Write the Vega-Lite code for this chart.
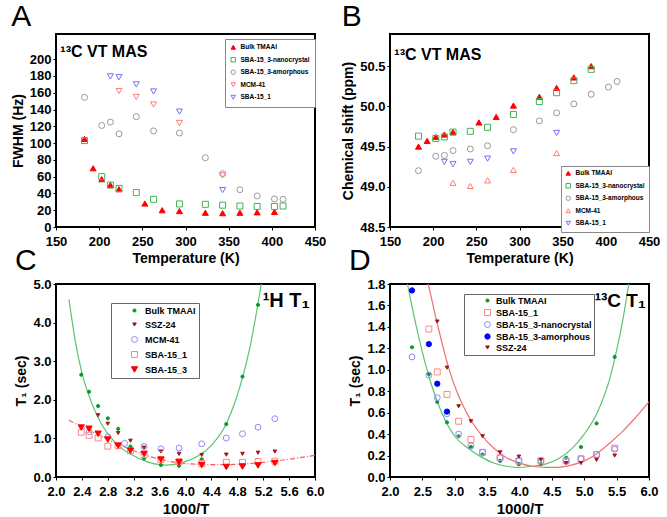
{
  "$schema": "https://vega.github.io/schema/vega-lite/v6.json",
  "background": "white",
  "padding": {"left": 10, "top": 1, "right": 5, "bottom": 3},
  "config": {
    "font": "Liberation Sans",
    "view": {"stroke": "#000", "strokeWidth": 2},
    "axis": {"domain": false, "grid": false, "ticks": true, "tickSize": 3, "tickColor": "#000", "labelPadding": 2, "titlePadding": 4,
      "labelFont": "Liberation Sans", "labelFontSize": 13, "labelFontWeight": "bold", "labelColor": "#000",
      "titleFont": "Liberation Sans", "titleFontSize": 14, "titleFontWeight": "bold", "titleColor": "#000", "labelFlush": false, "labelOverlap": false},
    "axisX": {"labelPadding": 5, "titlePadding": 3},
    "legend": {"labelFont": "Liberation Sans", "labelFontWeight": "bold", "title": null},
    "title": {"font": "Liberation Sans", "fontSize": 30, "fontWeight": "normal", "anchor": "start", "frame": "bounds", "color": "#000", "offset": 2}
  },
  "datasets": {
    "A": [
      {"s": "Bulk TMAAI", "x": 183, "y": 105}, {"s": "Bulk TMAAI", "x": 193, "y": 70}, {"s": "Bulk TMAAI", "x": 203, "y": 57}, {"s": "Bulk TMAAI", "x": 213, "y": 50}, {"s": "Bulk TMAAI", "x": 223, "y": 45}, {"s": "Bulk TMAAI", "x": 253, "y": 28}, {"s": "Bulk TMAAI", "x": 273, "y": 20}, {"s": "Bulk TMAAI", "x": 293, "y": 19}, {"s": "Bulk TMAAI", "x": 323, "y": 17}, {"s": "Bulk TMAAI", "x": 343, "y": 16.5}, {"s": "Bulk TMAAI", "x": 363, "y": 17}, {"s": "Bulk TMAAI", "x": 383, "y": 17.5}, {"s": "Bulk TMAAI", "x": 403, "y": 18},
      {"s": "SBA-15_3-nanocrystal", "x": 183, "y": 103}, {"s": "SBA-15_3-nanocrystal", "x": 203, "y": 60}, {"s": "SBA-15_3-nanocrystal", "x": 213, "y": 50}, {"s": "SBA-15_3-nanocrystal", "x": 223, "y": 46}, {"s": "SBA-15_3-nanocrystal", "x": 243, "y": 41}, {"s": "SBA-15_3-nanocrystal", "x": 263, "y": 33}, {"s": "SBA-15_3-nanocrystal", "x": 293, "y": 27.5}, {"s": "SBA-15_3-nanocrystal", "x": 323, "y": 27}, {"s": "SBA-15_3-nanocrystal", "x": 343, "y": 26}, {"s": "SBA-15_3-nanocrystal", "x": 363, "y": 25}, {"s": "SBA-15_3-nanocrystal", "x": 383, "y": 24.5}, {"s": "SBA-15_3-nanocrystal", "x": 403, "y": 24.5}, {"s": "SBA-15_3-nanocrystal", "x": 413, "y": 25},
      {"s": "SBA-15_3-amorphous", "x": 183, "y": 154.5}, {"s": "SBA-15_3-amorphous", "x": 203, "y": 121}, {"s": "SBA-15_3-amorphous", "x": 213, "y": 125}, {"s": "SBA-15_3-amorphous", "x": 223, "y": 111}, {"s": "SBA-15_3-amorphous", "x": 243, "y": 131.5}, {"s": "SBA-15_3-amorphous", "x": 263, "y": 114.5}, {"s": "SBA-15_3-amorphous", "x": 293, "y": 112}, {"s": "SBA-15_3-amorphous", "x": 323, "y": 82.5}, {"s": "SBA-15_3-amorphous", "x": 343, "y": 63.5}, {"s": "SBA-15_3-amorphous", "x": 363, "y": 44.5}, {"s": "SBA-15_3-amorphous", "x": 383, "y": 37}, {"s": "SBA-15_3-amorphous", "x": 403, "y": 33.5}, {"s": "SBA-15_3-amorphous", "x": 413, "y": 33},
      {"s": "MCM-41", "x": 223, "y": 162}, {"s": "MCM-41", "x": 243, "y": 155}, {"s": "MCM-41", "x": 263, "y": 146}, {"s": "MCM-41", "x": 293, "y": 124}, {"s": "MCM-41", "x": 343, "y": 61.5},
      {"s": "SBA-15_1", "x": 213, "y": 179.5}, {"s": "SBA-15_1", "x": 223, "y": 178.5}, {"s": "SBA-15_1", "x": 243, "y": 170}, {"s": "SBA-15_1", "x": 263, "y": 161.5}, {"s": "SBA-15_1", "x": 293, "y": 137.5}, {"s": "SBA-15_1", "x": 343, "y": 44}
    ],
    "B": [
      {"s": "Bulk TMAAI", "x": 183, "y": 49.50}, {"s": "Bulk TMAAI", "x": 193, "y": 49.57}, {"s": "Bulk TMAAI", "x": 203, "y": 49.62}, {"s": "Bulk TMAAI", "x": 213, "y": 49.65}, {"s": "Bulk TMAAI", "x": 223, "y": 49.68}, {"s": "Bulk TMAAI", "x": 253, "y": 49.80}, {"s": "Bulk TMAAI", "x": 273, "y": 49.87}, {"s": "Bulk TMAAI", "x": 293, "y": 50.01}, {"s": "Bulk TMAAI", "x": 323, "y": 50.12}, {"s": "Bulk TMAAI", "x": 343, "y": 50.23}, {"s": "Bulk TMAAI", "x": 363, "y": 50.36}, {"s": "Bulk TMAAI", "x": 383, "y": 50.50},
      {"s": "SBA-15_3-nanocrystal", "x": 183, "y": 49.63}, {"s": "SBA-15_3-nanocrystal", "x": 203, "y": 49.60}, {"s": "SBA-15_3-nanocrystal", "x": 213, "y": 49.62}, {"s": "SBA-15_3-nanocrystal", "x": 223, "y": 49.68}, {"s": "SBA-15_3-nanocrystal", "x": 243, "y": 49.69}, {"s": "SBA-15_3-nanocrystal", "x": 263, "y": 49.74}, {"s": "SBA-15_3-nanocrystal", "x": 293, "y": 49.90}, {"s": "SBA-15_3-nanocrystal", "x": 323, "y": 50.06}, {"s": "SBA-15_3-nanocrystal", "x": 343, "y": 50.17}, {"s": "SBA-15_3-nanocrystal", "x": 363, "y": 50.32}, {"s": "SBA-15_3-nanocrystal", "x": 383, "y": 50.46},
      {"s": "SBA-15_3-amorphous", "x": 183, "y": 49.20}, {"s": "SBA-15_3-amorphous", "x": 203, "y": 49.38}, {"s": "SBA-15_3-amorphous", "x": 213, "y": 49.39}, {"s": "SBA-15_3-amorphous", "x": 223, "y": 49.45}, {"s": "SBA-15_3-amorphous", "x": 243, "y": 49.47}, {"s": "SBA-15_3-amorphous", "x": 263, "y": 49.51}, {"s": "SBA-15_3-amorphous", "x": 293, "y": 49.71}, {"s": "SBA-15_3-amorphous", "x": 323, "y": 49.82}, {"s": "SBA-15_3-amorphous", "x": 343, "y": 49.92}, {"s": "SBA-15_3-amorphous", "x": 363, "y": 50.03}, {"s": "SBA-15_3-amorphous", "x": 383, "y": 50.15}, {"s": "SBA-15_3-amorphous", "x": 403, "y": 50.24}, {"s": "SBA-15_3-amorphous", "x": 413, "y": 50.31},
      {"s": "MCM-41", "x": 223, "y": 49.05}, {"s": "MCM-41", "x": 243, "y": 49.01}, {"s": "MCM-41", "x": 263, "y": 49.08}, {"s": "MCM-41", "x": 293, "y": 49.21}, {"s": "MCM-41", "x": 343, "y": 49.42},
      {"s": "SBA-15_1", "x": 213, "y": 49.31}, {"s": "SBA-15_1", "x": 223, "y": 49.28}, {"s": "SBA-15_1", "x": 243, "y": 49.31}, {"s": "SBA-15_1", "x": 263, "y": 49.35}, {"s": "SBA-15_1", "x": 293, "y": 49.44}, {"s": "SBA-15_1", "x": 343, "y": 49.67}
    ],
    "C": [
      {"s": "Bulk TMAAI", "x": 2.39, "y": 2.65}, {"s": "Bulk TMAAI", "x": 2.51, "y": 2.21}, {"s": "Bulk TMAAI", "x": 2.65, "y": 1.84}, {"s": "Bulk TMAAI", "x": 2.80, "y": 1.52}, {"s": "Bulk TMAAI", "x": 2.96, "y": 1.25}, {"s": "Bulk TMAAI", "x": 3.15, "y": 0.79}, {"s": "Bulk TMAAI", "x": 3.36, "y": 0.48}, {"s": "Bulk TMAAI", "x": 3.62, "y": 0.31}, {"s": "Bulk TMAAI", "x": 3.90, "y": 0.29}, {"s": "Bulk TMAAI", "x": 4.25, "y": 0.46}, {"s": "Bulk TMAAI", "x": 4.63, "y": 1.37}, {"s": "Bulk TMAAI", "x": 4.88, "y": 2.60}, {"s": "Bulk TMAAI", "x": 5.12, "y": 4.46},
      {"s": "SSZ-24", "x": 2.65, "y": 1.60}, {"s": "SSZ-24", "x": 2.80, "y": 1.38}, {"s": "SSZ-24", "x": 2.96, "y": 1.14}, {"s": "SSZ-24", "x": 3.15, "y": 0.94}, {"s": "SSZ-24", "x": 3.36, "y": 0.76}, {"s": "SSZ-24", "x": 3.62, "y": 0.66}, {"s": "SSZ-24", "x": 3.90, "y": 0.60}, {"s": "SSZ-24", "x": 4.25, "y": 0.57}, {"s": "SSZ-24", "x": 4.63, "y": 0.58}, {"s": "SSZ-24", "x": 4.88, "y": 0.60}, {"s": "SSZ-24", "x": 5.12, "y": 0.63}, {"s": "SSZ-24", "x": 5.38, "y": 0.66},
      {"s": "MCM-41", "x": 2.51, "y": 1.17}, {"s": "MCM-41", "x": 2.80, "y": 1.04}, {"s": "MCM-41", "x": 3.06, "y": 0.87}, {"s": "MCM-41", "x": 3.36, "y": 0.79}, {"s": "MCM-41", "x": 3.62, "y": 0.73}, {"s": "MCM-41", "x": 3.90, "y": 0.75}, {"s": "MCM-41", "x": 4.25, "y": 0.86}, {"s": "MCM-41", "x": 4.63, "y": 1.01}, {"s": "MCM-41", "x": 4.88, "y": 1.12}, {"s": "MCM-41", "x": 5.12, "y": 1.29}, {"s": "MCM-41", "x": 5.38, "y": 1.51},
      {"s": "SBA-15_1", "x": 2.39, "y": 1.16}, {"s": "SBA-15_1", "x": 2.51, "y": 1.08}, {"s": "SBA-15_1", "x": 2.65, "y": 1.01}, {"s": "SBA-15_1", "x": 2.80, "y": 0.80}, {"s": "SBA-15_1", "x": 2.96, "y": 0.81}, {"s": "SBA-15_1", "x": 3.15, "y": 0.68}, {"s": "SBA-15_1", "x": 3.36, "y": 0.58}, {"s": "SBA-15_1", "x": 3.62, "y": 0.45}, {"s": "SBA-15_1", "x": 3.90, "y": 0.40}, {"s": "SBA-15_1", "x": 4.25, "y": 0.35}, {"s": "SBA-15_1", "x": 4.63, "y": 0.38}, {"s": "SBA-15_1", "x": 4.88, "y": 0.38}, {"s": "SBA-15_1", "x": 5.12, "y": 0.40}, {"s": "SBA-15_1", "x": 5.38, "y": 0.41},
      {"s": "SBA-15_3", "x": 2.39, "y": 1.28}, {"s": "SBA-15_3", "x": 2.51, "y": 1.25}, {"s": "SBA-15_3", "x": 2.65, "y": 1.12}, {"s": "SBA-15_3", "x": 2.80, "y": 0.97}, {"s": "SBA-15_3", "x": 2.96, "y": 0.81}, {"s": "SBA-15_3", "x": 3.15, "y": 0.68}, {"s": "SBA-15_3", "x": 3.36, "y": 0.60}, {"s": "SBA-15_3", "x": 3.62, "y": 0.45}, {"s": "SBA-15_3", "x": 3.90, "y": 0.38}, {"s": "SBA-15_3", "x": 4.25, "y": 0.31}, {"s": "SBA-15_3", "x": 4.63, "y": 0.26}, {"s": "SBA-15_3", "x": 4.88, "y": 0.27}, {"s": "SBA-15_3", "x": 5.12, "y": 0.30}, {"s": "SBA-15_3", "x": 5.38, "y": 0.36}
    ],
    "Cg": [
      {"x": 2.2, "y": 4.6}, {"x": 2.3, "y": 3.5}, {"x": 2.4, "y": 2.7}, {"x": 2.5, "y": 2.15}, {"x": 2.6, "y": 1.72}, {"x": 2.7, "y": 1.38}, {"x": 2.8, "y": 1.12}, {"x": 2.9, "y": 0.92}, {"x": 3.0, "y": 0.76}, {"x": 3.2, "y": 0.55}, {"x": 3.4, "y": 0.4}, {"x": 3.6, "y": 0.32}, {"x": 3.7, "y": 0.31}, {"x": 3.8, "y": 0.32}, {"x": 4.0, "y": 0.4}, {"x": 4.2, "y": 0.55}, {"x": 4.4, "y": 0.82}, {"x": 4.6, "y": 1.28}, {"x": 4.7, "y": 1.65}, {"x": 4.8, "y": 2.12}, {"x": 4.9, "y": 2.7}, {"x": 5.0, "y": 3.4}, {"x": 5.1, "y": 4.3}, {"x": 5.2, "y": 5.3}
    ],
    "Cr": [
      {"x": 2.2, "y": 1.47}, {"x": 2.4, "y": 1.3}, {"x": 2.6, "y": 1.14}, {"x": 2.8, "y": 0.97}, {"x": 3.0, "y": 0.82}, {"x": 3.2, "y": 0.68}, {"x": 3.4, "y": 0.56}, {"x": 3.6, "y": 0.46}, {"x": 3.8, "y": 0.39}, {"x": 4.0, "y": 0.35}, {"x": 4.2, "y": 0.33}, {"x": 4.4, "y": 0.32}, {"x": 4.6, "y": 0.32}, {"x": 4.8, "y": 0.33}, {"x": 5.0, "y": 0.35}, {"x": 5.2, "y": 0.38}, {"x": 5.4, "y": 0.42}, {"x": 5.6, "y": 0.46}, {"x": 5.8, "y": 0.51}, {"x": 6.0, "y": 0.56}
    ],
    "D": [
      {"s": "Bulk TMAAI", "x": 2.34, "y": 1.21}, {"s": "Bulk TMAAI", "x": 2.60, "y": 0.96}, {"s": "Bulk TMAAI", "x": 2.73, "y": 0.70}, {"s": "Bulk TMAAI", "x": 2.88, "y": 0.51}, {"s": "Bulk TMAAI", "x": 3.06, "y": 0.38}, {"s": "Bulk TMAAI", "x": 3.25, "y": 0.28}, {"s": "Bulk TMAAI", "x": 3.43, "y": 0.21}, {"s": "Bulk TMAAI", "x": 3.70, "y": 0.15}, {"s": "Bulk TMAAI", "x": 3.99, "y": 0.12}, {"s": "Bulk TMAAI", "x": 4.33, "y": 0.12}, {"s": "Bulk TMAAI", "x": 4.72, "y": 0.18}, {"s": "Bulk TMAAI", "x": 4.95, "y": 0.28}, {"s": "Bulk TMAAI", "x": 5.19, "y": 0.50}, {"s": "Bulk TMAAI", "x": 5.47, "y": 1.12},
      {"s": "SBA-15_1", "x": 2.60, "y": 1.38}, {"s": "SBA-15_1", "x": 2.73, "y": 0.98}, {"s": "SBA-15_1", "x": 2.88, "y": 0.77}, {"s": "SBA-15_1", "x": 3.06, "y": 0.52}, {"s": "SBA-15_1", "x": 3.25, "y": 0.35}, {"s": "SBA-15_1", "x": 3.43, "y": 0.23}, {"s": "SBA-15_1", "x": 3.70, "y": 0.18}, {"s": "SBA-15_1", "x": 3.99, "y": 0.15}, {"s": "SBA-15_1", "x": 4.33, "y": 0.15}, {"s": "SBA-15_1", "x": 4.72, "y": 0.15}, {"s": "SBA-15_1", "x": 4.95, "y": 0.17}, {"s": "SBA-15_1", "x": 5.19, "y": 0.21}, {"s": "SBA-15_1", "x": 5.47, "y": 0.27},
      {"s": "SBA-15_3-nanocrystal", "x": 2.34, "y": 1.12}, {"s": "SBA-15_3-nanocrystal", "x": 2.60, "y": 0.95}, {"s": "SBA-15_3-nanocrystal", "x": 2.73, "y": 0.74}, {"s": "SBA-15_3-nanocrystal", "x": 2.88, "y": 0.59}, {"s": "SBA-15_3-nanocrystal", "x": 3.06, "y": 0.40}, {"s": "SBA-15_3-nanocrystal", "x": 3.25, "y": 0.29}, {"s": "SBA-15_3-nanocrystal", "x": 3.43, "y": 0.23}, {"s": "SBA-15_3-nanocrystal", "x": 3.70, "y": 0.18}, {"s": "SBA-15_3-nanocrystal", "x": 3.99, "y": 0.15}, {"s": "SBA-15_3-nanocrystal", "x": 4.33, "y": 0.15}, {"s": "SBA-15_3-nanocrystal", "x": 4.72, "y": 0.15}, {"s": "SBA-15_3-nanocrystal", "x": 4.95, "y": 0.17}, {"s": "SBA-15_3-nanocrystal", "x": 5.19, "y": 0.21}, {"s": "SBA-15_3-nanocrystal", "x": 5.47, "y": 0.26},
      {"s": "SBA-15_3-amorphous", "x": 2.34, "y": 1.74}, {"s": "SBA-15_3-amorphous", "x": 2.60, "y": 1.24}, {"s": "SBA-15_3-amorphous", "x": 2.73, "y": 0.87}, {"s": "SBA-15_3-amorphous", "x": 2.88, "y": 0.61},
      {"s": "SSZ-24", "x": 2.73, "y": 1.45}, {"s": "SSZ-24", "x": 2.88, "y": 1.02}, {"s": "SSZ-24", "x": 3.06, "y": 0.66}, {"s": "SSZ-24", "x": 3.25, "y": 0.52}, {"s": "SSZ-24", "x": 3.43, "y": 0.38}, {"s": "SSZ-24", "x": 3.70, "y": 0.23}, {"s": "SSZ-24", "x": 3.99, "y": 0.19}, {"s": "SSZ-24", "x": 4.33, "y": 0.16}, {"s": "SSZ-24", "x": 4.72, "y": 0.13}, {"s": "SSZ-24", "x": 4.95, "y": 0.13}, {"s": "SSZ-24", "x": 5.19, "y": 0.16}, {"s": "SSZ-24", "x": 5.47, "y": 0.20}
    ],
    "Dg": [
      {"x": 2.2, "y": 2.0}, {"x": 2.27, "y": 1.8}, {"x": 2.4, "y": 1.42}, {"x": 2.6, "y": 0.94}, {"x": 2.8, "y": 0.6}, {"x": 3.0, "y": 0.38}, {"x": 3.2, "y": 0.27}, {"x": 3.4, "y": 0.19}, {"x": 3.6, "y": 0.13}, {"x": 3.8, "y": 0.1}, {"x": 4.0, "y": 0.09}, {"x": 4.2, "y": 0.1}, {"x": 4.4, "y": 0.12}, {"x": 4.6, "y": 0.17}, {"x": 4.8, "y": 0.26}, {"x": 5.0, "y": 0.4}, {"x": 5.2, "y": 0.6}, {"x": 5.4, "y": 0.93}, {"x": 5.5, "y": 1.18}, {"x": 5.6, "y": 1.48}, {"x": 5.7, "y": 1.84}, {"x": 5.75, "y": 2.0}
    ],
    "Dr": [
      {"x": 2.55, "y": 1.9}, {"x": 2.59, "y": 1.8}, {"x": 2.75, "y": 1.38}, {"x": 2.9, "y": 1.03}, {"x": 3.05, "y": 0.77}, {"x": 3.2, "y": 0.58}, {"x": 3.4, "y": 0.4}, {"x": 3.6, "y": 0.27}, {"x": 3.8, "y": 0.18}, {"x": 4.0, "y": 0.13}, {"x": 4.2, "y": 0.1}, {"x": 4.4, "y": 0.09}, {"x": 4.6, "y": 0.09}, {"x": 4.8, "y": 0.11}, {"x": 5.0, "y": 0.15}, {"x": 5.2, "y": 0.22}, {"x": 5.4, "y": 0.32}, {"x": 5.6, "y": 0.43}, {"x": 5.8, "y": 0.56}, {"x": 6.0, "y": 0.7}
    ]
  },
  "columns": 2,
  "bounds": "flush",
  "spacing": {"row": 57, "column": 75},
  "resolve": {
    "scale": {"x": "independent", "y": "independent", "shape": "independent", "fill": "independent", "stroke": "independent", "size": "independent"},
    "legend": {"shape": "independent", "fill": "independent", "stroke": "independent", "size": "independent"}
  },
  "concat": [
    {
      "width": 259, "height": 193,
      "title": {"text": "A"},
      "layer": [
        {
          "data": {"name": "A"},
          "mark": {"type": "point", "filled": true, "opacity": 1, "strokeWidth": 1, "size": 36},
          "encoding": {
            "x": {"field": "x", "type": "quantitative", "scale": {"domain": [150, 450], "nice": false, "zero": false}, "axis": {"title": "Temperature (K)", "values": [150, 200, 250, 300, 350, 400, 450], "tickCount": 100}},
            "y": {"field": "y", "type": "quantitative", "scale": {"domain": [0, 230], "nice": false}, "axis": {"title": "FWHM (Hz)", "values": [0, 20, 40, 60, 80, 100, 120, 140, 160, 180, 200], "tickCount": 100}},
            "shape": {"field": "s", "type": "nominal", "scale": {"domain": ["Bulk TMAAI", "SBA-15_3-nanocrystal", "SBA-15_3-amorphous", "MCM-41", "SBA-15_1"], "range": ["triangle-up", "square", "circle", "triangle-down", "triangle-down"]},
              "legend": {"orient": "none", "legendX": 169, "legendY": 5, "labelFontSize": 6.5, "padding": 5, "strokeColor": "#888", "fillColor": "#fff", "rowPadding": 3.5, "symbolSize": 20, "labelOffset": 4, "symbolStrokeWidth": 1,
                "encode": {"labels": {"update": {"fill": {"signal": "datum.value=='Bulk TMAAI'?'#ff0000':datum.value=='SBA-15_3-nanocrystal'?'#009a2e':datum.value=='SBA-15_3-amorphous'?'#333333':datum.value=='MCM-41'?'#ff1a1a':'#3333ff'"}}}}}},
            "fill": {"field": "s", "type": "nominal", "scale": {"domain": ["Bulk TMAAI", "SBA-15_3-nanocrystal", "SBA-15_3-amorphous", "MCM-41", "SBA-15_1"], "range": ["#ff0000", "transparent", "transparent", "transparent", "transparent"]}},
            "stroke": {"field": "s", "type": "nominal", "scale": {"domain": ["Bulk TMAAI", "SBA-15_3-nanocrystal", "SBA-15_3-amorphous", "MCM-41", "SBA-15_1"], "range": ["#ff0000", "#3fb455", "#999999", "#ff7a7a", "#7070ff"]}}
          }
        },
        {
          "data": {"values": [{}]},
          "mark": {"type": "text", "align": "left", "baseline": "alphabetic", "fontSize": 16, "fontWeight": "bold", "color": "#000"},
          "encoding": {"x": {"datum": 155}, "y": {"datum": 202}, "text": {"value": "¹³C VT MAS"}}
        }
      ]
    },
    {
      "width": 259, "height": 193,
      "title": {"text": "B"},
      "layer": [
        {
          "data": {"name": "B"},
          "mark": {"type": "point", "filled": true, "opacity": 1, "strokeWidth": 1, "size": 36},
          "encoding": {
            "x": {"field": "x", "type": "quantitative", "scale": {"domain": [150, 450], "nice": false, "zero": false}, "axis": {"title": "Temperature (K)", "values": [150, 200, 250, 300, 350, 400, 450], "tickCount": 100}},
            "y": {"field": "y", "type": "quantitative", "scale": {"domain": [48.5, 50.9], "nice": false, "zero": false}, "axis": {"title": "Chemical shift (ppm)", "values": [48.5, 49.0, 49.5, 50.0, 50.5], "format": ".1f", "tickCount": 100}},
            "shape": {"field": "s", "type": "nominal", "scale": {"domain": ["Bulk TMAAI", "SBA-15_3-nanocrystal", "SBA-15_3-amorphous", "MCM-41", "SBA-15_1"], "range": ["triangle-up", "square", "circle", "triangle-up", "triangle-down"]},
              "legend": {"orient": "none", "legendX": 171, "legendY": 132, "labelFontSize": 6.5, "padding": 4, "strokeColor": "#888", "fillColor": "#fff", "rowPadding": 3.5, "symbolSize": 20, "labelOffset": 4, "symbolStrokeWidth": 1,
                "encode": {"labels": {"update": {"fill": {"signal": "datum.value=='Bulk TMAAI'?'#ff0000':datum.value=='SBA-15_3-nanocrystal'?'#009a2e':datum.value=='SBA-15_3-amorphous'?'#333333':datum.value=='MCM-41'?'#ff1a1a':'#3333ff'"}}}}}},
            "fill": {"field": "s", "type": "nominal", "scale": {"domain": ["Bulk TMAAI", "SBA-15_3-nanocrystal", "SBA-15_3-amorphous", "MCM-41", "SBA-15_1"], "range": ["#ff0000", "transparent", "transparent", "transparent", "transparent"]}},
            "stroke": {"field": "s", "type": "nominal", "scale": {"domain": ["Bulk TMAAI", "SBA-15_3-nanocrystal", "SBA-15_3-amorphous", "MCM-41", "SBA-15_1"], "range": ["#ff0000", "#3fb455", "#999999", "#ff7a7a", "#7070ff"]}}
          }
        },
        {
          "data": {"values": [{}]},
          "mark": {"type": "text", "align": "left", "baseline": "alphabetic", "fontSize": 16, "fontWeight": "bold", "color": "#000"},
          "encoding": {"x": {"datum": 155}, "y": {"datum": 50.58}, "text": {"value": "¹³C VT MAS"}}
        }
      ]
    },
    {
      "width": 259, "height": 193,
      "title": {"text": "C"},
      "layer": [
        {
          "data": {"name": "Cg"},
          "mark": {"type": "line", "color": "#5cc46e", "strokeWidth": 1.2, "clip": true, "interpolate": "monotone"},
          "encoding": {
            "x": {"field": "x", "type": "quantitative", "scale": {"domain": [2, 6], "nice": false, "zero": false}, "axis": {"title": "1000/T", "titleFontSize": 15, "values": [2.0, 2.4, 2.8, 3.2, 3.6, 4.0, 4.4, 4.8, 5.2, 5.6, 6.0], "format": ".1f", "tickCount": 100}},
            "y": {"field": "y", "type": "quantitative", "scale": {"domain": [0, 5], "nice": false}, "axis": {"title": "T₁ (sec)", "values": [0, 1, 2, 3, 4, 5], "format": ".1f", "tickCount": 100}}
          }
        },
        {
          "data": {"name": "Cr"},
          "mark": {"type": "line", "color": "#ff5a5a", "strokeWidth": 1.2, "clip": true, "interpolate": "monotone", "strokeDash": [5, 2, 1, 2]},
          "encoding": {"x": {"field": "x", "type": "quantitative"}, "y": {"field": "y", "type": "quantitative"}}
        },
        {
          "data": {"name": "C"},
          "mark": {"type": "point", "filled": true, "opacity": 1, "strokeWidth": 1},
          "encoding": {
            "x": {"field": "x", "type": "quantitative"},
            "y": {"field": "y", "type": "quantitative"},
            "shape": {"field": "s", "type": "nominal", "scale": {"domain": ["Bulk TMAAI", "SSZ-24", "MCM-41", "SBA-15_1", "SBA-15_3"], "range": ["circle", "triangle-down", "circle", "square", "triangle-down"]},
              "legend": {"orient": "none", "legendX": 55, "legendY": 19, "labelFontSize": 9, "padding": 3, "symbolOffset": 16, "strokeColor": "#666", "fillColor": "#fff", "rowPadding": 4, "labelOffset": 6, "symbolStrokeWidth": 1,
                "encode": {"labels": {"update": {"fill": {"signal": "datum.value=='Bulk TMAAI'?'#0a9a2a':datum.value=='SSZ-24'?'#a01818':datum.value=='MCM-41'?'#2222ee':'#ff2020'"}}}}}},
            "size": {"field": "s", "type": "nominal", "scale": {"type": "ordinal", "domain": ["Bulk TMAAI", "SSZ-24", "MCM-41", "SBA-15_1", "SBA-15_3"], "range": [10, 13, 35, 35, 40]}},
            "fill": {"field": "s", "type": "nominal", "scale": {"domain": ["Bulk TMAAI", "SSZ-24", "MCM-41", "SBA-15_1", "SBA-15_3"], "range": ["#0a9a2a", "#a01818", "transparent", "transparent", "#ff0000"]}},
            "stroke": {"field": "s", "type": "nominal", "scale": {"domain": ["Bulk TMAAI", "SSZ-24", "MCM-41", "SBA-15_1", "SBA-15_3"], "range": ["#0a9a2a", "#a01818", "#8a8aff", "#ff8585", "#ff0000"]}}
          }
        },
        {
          "data": {"values": [{}]},
          "mark": {"type": "text", "align": "right", "baseline": "alphabetic", "fontSize": 20, "fontWeight": "bold", "color": "#000"},
          "encoding": {"x": {"datum": 5.92}, "y": {"datum": 4.4}, "text": {"value": "¹H T₁"}}
        }
      ]
    },
    {
      "width": 259, "height": 193,
      "title": {"text": "D"},
      "layer": [
        {
          "data": {"name": "Dg"},
          "mark": {"type": "line", "color": "#5cc46e", "strokeWidth": 1.2, "clip": true, "interpolate": "monotone"},
          "encoding": {
            "x": {"field": "x", "type": "quantitative", "scale": {"domain": [2, 6], "nice": false, "zero": false}, "axis": {"title": "1000/T", "titleFontSize": 15, "values": [2.0, 2.5, 3.0, 3.5, 4.0, 4.5, 5.0, 5.5, 6.0], "format": ".1f", "tickCount": 100}},
            "y": {"field": "y", "type": "quantitative", "scale": {"domain": [0, 1.8], "nice": false}, "axis": {"title": "T₁ (sec)", "values": [0, 0.2, 0.4, 0.6, 0.8, 1.0, 1.2, 1.4, 1.6, 1.8], "format": ".1f", "tickCount": 100}}
          }
        },
        {
          "data": {"name": "Dr"},
          "mark": {"type": "line", "color": "#ee7070", "strokeWidth": 1.2, "clip": true, "interpolate": "monotone"},
          "encoding": {"x": {"field": "x", "type": "quantitative"}, "y": {"field": "y", "type": "quantitative"}}
        },
        {
          "data": {"name": "D"},
          "mark": {"type": "point", "filled": true, "opacity": 1, "strokeWidth": 1},
          "encoding": {
            "x": {"field": "x", "type": "quantitative"},
            "y": {"field": "y", "type": "quantitative"},
            "shape": {"field": "s", "type": "nominal", "scale": {"domain": ["Bulk TMAAI", "SBA-15_1", "SBA-15_3-nanocrystal", "SBA-15_3-amorphous", "SSZ-24"], "range": ["circle", "square", "circle", "circle", "triangle-down"]},
              "legend": {"orient": "none", "legendX": 74, "legendY": 10, "labelFontSize": 9, "padding": 2, "symbolOffset": 17, "strokeColor": "#666", "fillColor": "#fff", "rowPadding": 1, "labelOffset": 4, "symbolStrokeWidth": 1,
                "encode": {"labels": {"update": {"fill": {"signal": "datum.value=='Bulk TMAAI'?'#0a9a2a':datum.value=='SBA-15_1'?'#ff2020':datum.value=='SSZ-24'?'#a01818':'#2222ee'"}}}}}},
            "size": {"field": "s", "type": "nominal", "scale": {"type": "ordinal", "domain": ["Bulk TMAAI", "SBA-15_1", "SBA-15_3-nanocrystal", "SBA-15_3-amorphous", "SSZ-24"], "range": [10, 35, 35, 28, 13]}},
            "fill": {"field": "s", "type": "nominal", "scale": {"domain": ["Bulk TMAAI", "SBA-15_1", "SBA-15_3-nanocrystal", "SBA-15_3-amorphous", "SSZ-24"], "range": ["#0a9a2a", "transparent", "transparent", "#0000ff", "#a01818"]}},
            "stroke": {"field": "s", "type": "nominal", "scale": {"domain": ["Bulk TMAAI", "SBA-15_1", "SBA-15_3-nanocrystal", "SBA-15_3-amorphous", "SSZ-24"], "range": ["#0a9a2a", "#ff8585", "#8a8aff", "#0000ff", "#a01818"]}}
          }
        },
        {
          "data": {"values": [{}]},
          "mark": {"type": "text", "align": "right", "baseline": "alphabetic", "fontSize": 19, "fontWeight": "bold", "color": "#000"},
          "encoding": {"x": {"datum": 5.95}, "y": {"datum": 1.59}, "text": {"value": "¹³C T₁"}}
        }
      ]
    }
  ]
}
